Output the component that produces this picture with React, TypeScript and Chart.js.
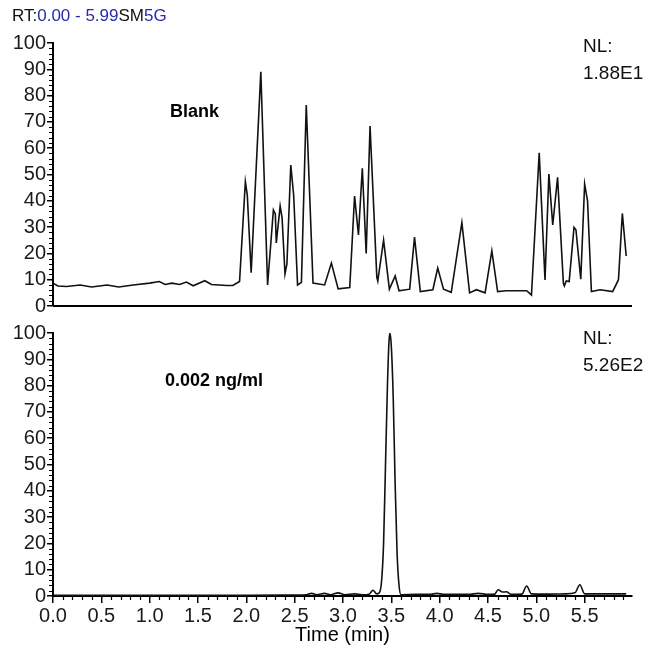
import React, { useEffect, useRef } from 'react';
import { Chart, registerables } from 'chart.js';
Chart.register(...registerables);

// ---- Data (time in min, relative abundance %) ----
const blankTime = [0.00,0.05,0.14,0.28,0.40,0.56,0.68,0.83,1.00,1.10,1.16,1.23,1.31,1.38,1.45,1.57,1.64,1.80,1.86,1.93,1.99,2.01,2.05,2.15,2.22,2.28,2.30,2.31,2.35,2.37,2.40,2.42,2.46,2.49,2.53,2.57,2.62,2.69,2.81,2.88,2.95,3.07,3.12,3.16,3.20,3.24,3.28,3.35,3.36,3.42,3.48,3.54,3.58,3.69,3.74,3.80,3.93,3.98,4.04,4.12,4.23,4.31,4.38,4.47,4.54,4.60,4.69,4.90,4.95,5.03,5.09,5.13,5.17,5.22,5.28,5.29,5.31,5.34,5.39,5.41,5.46,5.50,5.53,5.57,5.66,5.79,5.85,5.89,5.93];
const blankIntensity = [8.7,7.6,7.4,8.0,7.2,8.0,7.2,8.0,8.7,9.3,8.2,8.7,8.2,9.1,7.7,9.6,8.2,7.8,7.8,9.3,47.3,42.2,12.7,89.1,8.0,36.5,35.0,24.0,38.0,33.5,12.2,16.0,53.6,42.0,8.0,9.0,76.4,8.7,8.0,16.3,6.5,7.0,41.8,27.0,52.4,20.0,68.4,11.0,9.5,25.0,6.4,11.4,5.8,6.4,26.2,5.5,6.2,14.4,6.4,5.2,31.7,5.0,6.2,5.0,21.0,5.5,5.8,5.8,4.2,58.3,9.9,50.2,30.8,48.9,8.7,7.6,9.5,9.3,29.9,29.0,10.2,46.4,40.0,5.5,6.2,5.5,10.0,35.2,19.0];

const sampleTime = [0.00,0.5,1.0,1.5,2.0,2.5,2.62,2.675,2.73,2.81,2.87,2.95,3.02,3.12,3.20,3.27,3.31,3.35,3.38,3.40,3.42,3.44,3.46,3.475,3.485,3.50,3.52,3.54,3.56,3.58,3.60,3.75,3.90,3.97,4.05,4.30,4.40,4.50,4.57,4.605,4.65,4.69,4.74,4.85,4.90,4.95,5.10,5.30,5.40,5.45,5.50,5.70,5.93];
const sampleIntensity = [0.3,0.3,0.3,0.3,0.3,0.4,0.5,1.0,0.5,1.0,0.5,1.2,0.5,0.8,0.5,0.7,2.2,0.8,1.5,6,20,50,80,96,100,95,75,42,16,4,0.5,0.6,0.6,1.0,0.6,0.6,1.0,0.6,0.7,2.4,1.5,1.6,0.6,0.7,3.8,0.8,0.7,0.8,1.2,4.3,0.8,0.8,0.8];

const xTickValues = [0.0,0.5,1.0,1.5,2.0,2.5,3.0,3.5,4.0,4.5,5.0,5.5];
const yTickValues = [0,10,20,30,40,50,60,70,80,90,100];
const X_MIN = 0;
const X_MAX = 5.99;

const FONT = "'Liberation Sans', Arial, Helvetica, sans-serif";

function makeMinorPlugin(withX: boolean) {
  return {
    id: 'minorTicks',
    afterDraw(chart: any) {
      const ctx = chart.ctx;
      const ys = chart.scales.y;
      const xs = chart.scales.x;
      const area = chart.chartArea;
      ctx.save();
      ctx.strokeStyle = '#000';
      ctx.lineWidth = 1.2;
      ctx.beginPath();
      for (let v = 0; v <= 100; v += 2) {
        if (v % 10 === 0) continue;
        const py = Math.round(ys.getPixelForValue(v)) + 0.5;
        ctx.moveTo(area.left, py);
        ctx.lineTo(area.left - 4, py);
      }
      if (withX) {
        for (let i = 0; i <= 59; i++) {
          if (i % 5 === 0) continue;
          const px = Math.round(xs.getPixelForValue(i / 10)) + 0.5;
          ctx.moveTo(px, area.bottom);
          ctx.lineTo(px, area.bottom + 4);
        }
      }
      ctx.stroke();
      if (!withX) {
        ctx.beginPath();
        ctx.lineWidth = 2;
        ctx.moveTo(area.left, area.bottom);
        ctx.lineTo(area.right, area.bottom);
        ctx.stroke();
      }
      ctx.restore();
    },
  };
}

function yAxis() {
  return {
    min: 0,
    max: 100,
    afterFit: (s: any) => { s.width = 53; },
    afterBuildTicks: (s: any) => { s.ticks = yTickValues.map((v) => ({ value: v })); },
    ticks: { autoSkip: false, color: '#1a1a1a', padding: 1, font: { family: FONT, size: 20 } },
    grid: { display: true, drawOnChartArea: false, drawTicks: true, tickLength: 6, color: '#000', lineWidth: 1.5 },
    border: { display: true, color: '#000', width: 2 },
  };
}

function Panel({ times, values, withX, top, height, padTop, smooth }: any) {
  const ref = useRef<HTMLCanvasElement>(null);
  useEffect(() => {
    if (!ref.current) return;
    const data = times.map((t: number, i: number) => ({ x: t, y: values[i] }));
    const xScale: any = withX
      ? {
          type: 'linear',
          min: X_MIN,
          max: X_MAX,
          afterBuildTicks: (s: any) => { s.ticks = xTickValues.map((v) => ({ value: v })); },
          afterFit: (s: any) => { s.height = 51; },
          ticks: {
            autoSkip: false,
            maxRotation: 0,
            padding: 1,
            color: '#1a1a1a',
            font: { family: FONT, size: 20 },
            callback: (v: any) => Number(v).toFixed(1),
          },
          grid: { display: true, drawOnChartArea: false, drawTicks: true, tickLength: 7, color: '#000', lineWidth: 1.5 },
          border: { display: true, color: '#000', width: 2 },
          title: { display: true, text: 'Time (min)', color: '#000', font: { family: FONT, size: 20 }, padding: { top: 0, bottom: 0 } },
        }
      : { type: 'linear', min: X_MIN, max: X_MAX, display: false };
    const chart = new Chart(ref.current, {
      type: 'line',
      data: {
        datasets: [
          {
            data,
            borderColor: '#111',
            borderWidth: 1.6,
            pointRadius: 0,
            fill: false,
            tension: 0,
            cubicInterpolationMode: smooth ? 'monotone' : 'default',
          } as any,
        ],
      },
      options: {
        animation: false,
        responsive: false,
        maintainAspectRatio: false,
        devicePixelRatio: 1,
        layout: { padding: { left: 0, right: 32, top: padTop, bottom: withX ? 0 : 14 } },
        plugins: { legend: { display: false }, tooltip: { enabled: false } },
        scales: { x: xScale, y: yAxis() as any },
      },
      plugins: [makeMinorPlugin(withX)],
    });
    return () => chart.destroy();
  }, []);
  return (
    <canvas
      ref={ref}
      width={664}
      height={height}
      style={{ position: 'absolute', left: 0, top, width: 664, height }}
    />
  );
}

const textBase: React.CSSProperties = { position: 'absolute', fontFamily: FONT, color: '#111', whiteSpace: 'nowrap' };

export default function App() {
  return (
    <div style={{ position: 'absolute', left: 0, top: 0, width: 664, height: 647, background: '#fff', overflow: 'hidden' }}>
      <Panel times={blankTime} values={blankIntensity} withX={false} top={0} height={320} padTop={43} smooth={false} />
      <Panel times={sampleTime} values={sampleIntensity} withX={true} top={320} height={327} padTop={13} smooth={true} />

      <div style={{ ...textBase, left: 12, top: 7, fontSize: 17, lineHeight: '17px' }}>
        RT:<span style={{ color: '#2a2aa8' }}>0.00 - 5.99</span>SM<span style={{ color: '#2a2aa8' }}>5G</span>
      </div>

      <div style={{ ...textBase, left: 583, top: 32, fontSize: 19, lineHeight: '27px' }}>
        NL:<br />1.88E1
      </div>
      <div style={{ ...textBase, left: 583, top: 324, fontSize: 19, lineHeight: '27px' }}>
        NL:<br />5.26E2
      </div>

      <div style={{ ...textBase, left: 170, top: 102, fontSize: 18, lineHeight: '18px', fontWeight: 'bold', color: '#000' }}>Blank</div>
      <div style={{ ...textBase, left: 165, top: 371, fontSize: 18, lineHeight: '18px', fontWeight: 'bold', color: '#000' }}>0.002 ng/ml</div>
    </div>
  );
}
